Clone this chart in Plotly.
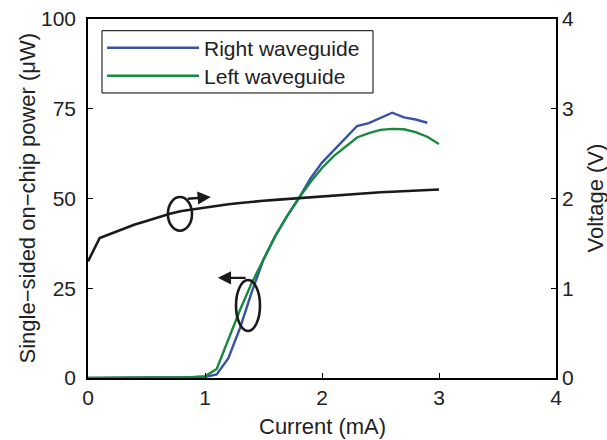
import plotly.graph_objects as go

current = [0.0, 0.1, 0.2, 0.3, 0.4, 0.5, 0.6, 0.7, 0.8, 0.9, 1.0, 1.1, 1.2, 1.3, 1.4,
           1.5, 1.6, 1.7, 1.8, 1.9, 2.0, 2.1, 2.2, 2.3, 2.4, 2.5, 2.6, 2.7, 2.8, 2.9, 3.0]

right_power = [0, 0, 0, 0, 0, 0, 0, 0.1, 0.1, 0.2, 0.3, 1.0, 5.5, 14.0, 24.0,
               33.0, 39.5, 45.0, 50.0, 55.5, 60.0, 63.5, 66.8, 70.2, 71.0, 72.5, 73.9, 72.6, 72.0, 71.1]
left_power = [0, 0, 0, 0, 0, 0, 0.1, 0.1, 0.2, 0.3, 0.5, 2.5, 11.0, 19.0, 26.5,
              33.0, 39.5, 45.0, 50.0, 54.5, 58.5, 61.8, 64.5, 67.0, 68.2, 69.1, 69.4, 69.3, 68.5, 67.2, 65.2]
voltage = [1.30, 1.56, 1.61, 1.66, 1.71, 1.75, 1.79, 1.83, 1.86, 1.88, 1.90, 1.92, 1.935, 1.95, 1.965,
           1.975, 1.985, 1.995, 2.005, 2.015, 2.025, 2.035, 2.045, 2.055, 2.06, 2.07, 2.075, 2.08, 2.09, 2.095, 2.10]

x_ticks = [0, 1, 2, 3, 4]
power_ticks = [0, 25, 50, 75, 100]
voltage_ticks = [0, 1, 2, 3, 4]

x_title = "Current (mA)"
y_title = "Single\u2212sided on\u2212chip power (\u03bcW)"
y2_title = "Voltage (V)"

FONT = "Liberation Sans, Arial, Helvetica, sans-serif"
BLUE = "#3953a4"
GREEN = "#17893f"
BLACK = "#1a1a1a"
TXT = "#222222"

fig = go.Figure()
fig.add_trace(go.Scatter(x=current, y=voltage, mode="lines", yaxis="y2",
                         line=dict(color=BLACK, width=2.6), showlegend=False))
fig.add_trace(go.Scatter(x=current[:len(right_power)], y=right_power, mode="lines",
                         name="Right waveguide", legend="legend",
                         line=dict(color=BLUE, width=2.4)))
fig.add_trace(go.Scatter(x=current, y=left_power, mode="lines",
                         name="Left waveguide", legend="legend2",
                         line=dict(color=GREEN, width=2.4)))

# legend frame
fig.add_shape(type="rect", xref="paper", yref="paper", x0=0.0299, x1=0.609, y0=0.794, y1=0.9674,
              line=dict(color="black", width=1), fillcolor="white", layer="below")

# ellipses marking which curve belongs to which axis
fig.add_shape(type="circle", xref="x", yref="y", x0=0.683, x1=0.889, y0=41.0, y1=50.4,
              line=dict(color=BLACK, width=2.6))
fig.add_shape(type="circle", xref="x", yref="y", x0=1.265, x1=1.47, y0=13.1, y1=27.3,
              line=dict(color=BLACK, width=2.6))
# arrows
fig.add_annotation(x=1.05, y=50.4, ax=0.84, ay=49.9, xref="x", yref="y", axref="x", ayref="y",
                   showarrow=True, arrowhead=2, arrowsize=1.1, arrowwidth=2.4, arrowcolor=BLACK, text="")
fig.add_annotation(x=1.11, y=27.9, ax=1.36, ay=27.9, xref="x", yref="y", axref="x", ayref="y",
                   showarrow=True, arrowhead=2, arrowsize=1.1, arrowwidth=2.4, arrowcolor=BLACK, text="")

# axis titles
title_font = dict(family=FONT, size=22, color=TXT)
fig.add_annotation(text=x_title, xref="paper", yref="paper", x=0.5, y=0, xanchor="center",
                   yanchor="middle", yshift=-48, showarrow=False, font=title_font)
fig.add_annotation(text=y_title, xref="paper", yref="paper", x=0, y=0.5, xanchor="center",
                   yanchor="middle", xshift=-61, textangle=-90, showarrow=False, font=title_font)
fig.add_annotation(text=y2_title, xref="paper", yref="paper", x=1, y=0.5, xanchor="center",
                   yanchor="middle", xshift=39, textangle=-90, showarrow=False, font=title_font)

axis_common = dict(showgrid=False, zeroline=False, ticks="inside", ticklen=5, tickwidth=1,
                   tickcolor="black", linecolor="black", linewidth=1.5, showline=True,
                   automargin=False,
                   tickfont=dict(family=FONT, size=21, color=TXT))

legend_common = dict(xanchor="left", yanchor="middle", bgcolor="rgba(0,0,0,0)",
                     borderwidth=0, itemwidth=92,
                     font=dict(family=FONT, size=21, color=TXT))

fig.update_layout(
    width=607, height=440,
    margin=dict(l=88, r=51, t=19, b=62),
    paper_bgcolor="white", plot_bgcolor="white",
    font=dict(family=FONT, size=21, color=TXT),
    xaxis=dict(range=[0, 4], tickvals=x_ticks, mirror=True, **axis_common),
    yaxis=dict(range=[0, 100], tickvals=power_ticks, ticklabelstandoff=6, **axis_common),
    yaxis2=dict(range=[0, 4], tickvals=voltage_ticks, overlaying="y", side="right", **axis_common),
    legend=dict(x=0.03, y=0.919, **legend_common),
    legend2=dict(x=0.03, y=0.841, **legend_common),
)

fig.write_html("out.html", config={"displayModeBar": False},
               post_script="document.body.style.margin='0px';")
